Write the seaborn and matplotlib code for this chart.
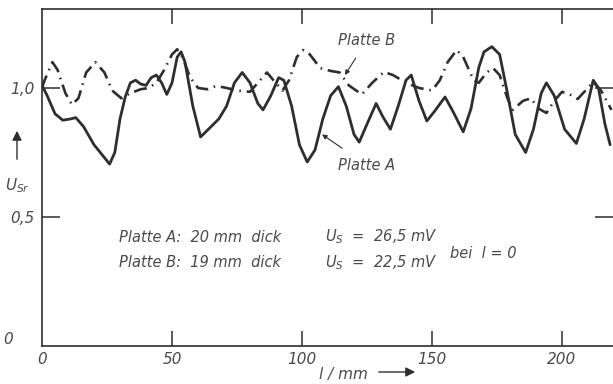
import numpy as np
import pandas as pd
import seaborn as sns
import matplotlib.pyplot as plt

# Platte A (solid line)
a_l = [0, 2, 5, 8, 11, 13, 16, 20, 24, 26, 28, 30, 32, 34, 36, 38, 40, 42, 44, 46,
       48, 50, 52, 53.5, 55, 58, 61, 64, 68, 71, 74, 77, 80, 83, 85, 88, 91, 93, 96, 99,
       102, 105, 108, 111, 114, 117, 120, 122, 125, 128.5, 131, 134, 137, 140, 142, 145,
       148, 151, 155, 158, 162, 165, 168, 170, 173, 176, 179, 182, 186, 189, 192, 194,
       197, 201, 205.5, 208.5, 212, 214, 216.5, 218.5]
a_u = [1.01, 0.97, 0.90, 0.875, 0.88, 0.885, 0.85, 0.78, 0.73, 0.705, 0.75, 0.88, 0.965,
       1.02, 1.03, 1.015, 1.01, 1.04, 1.05, 1.02, 0.975, 1.02, 1.12, 1.14, 1.10, 0.93, 0.81,
       0.84, 0.88, 0.93, 1.02, 1.06, 1.02, 0.94, 0.915, 0.97, 1.04, 1.03, 0.93, 0.78, 0.713,
       0.76, 0.88, 0.97, 1.005, 0.93, 0.82, 0.79, 0.86, 0.94, 0.89, 0.84, 0.93, 1.03, 1.05,
       0.95, 0.872, 0.91, 0.965, 0.91, 0.83, 0.92, 1.08, 1.14, 1.16, 1.13, 0.98, 0.82, 0.75,
       0.84, 0.98, 1.02, 0.97, 0.84, 0.785, 0.88, 1.03, 1.00, 0.86, 0.78]

# Platte B (dash-dot line)
b_l = [0, 1, 4, 6, 9, 11.5, 14, 17, 20.5, 24, 27, 30.5, 34, 38, 41, 44, 47, 50, 52, 54,
       57, 60, 63.5, 67, 71, 75, 80, 83, 86.5, 89, 92.5, 95, 98, 100.5, 103, 107, 111,
       114.5, 118, 123, 127, 131.5, 135, 140, 145, 150, 153, 156, 159.5, 162, 166, 168,
       171, 173.5, 176, 179, 181, 185, 188, 191, 194, 197, 200, 203, 206, 209, 212, 215, 219]
b_u = [1.00, 1.03, 1.10, 1.07, 0.98, 0.935, 0.96, 1.06, 1.10, 1.06, 0.99, 0.96, 0.98,
       0.995, 1.0, 1.02, 1.07, 1.13, 1.15, 1.12, 1.04, 1.0, 0.995, 1.008, 1.0, 0.99, 0.985,
       1.02, 1.06, 1.03, 0.99, 1.03, 1.12, 1.147, 1.13, 1.077, 1.066, 1.06, 1.01, 0.975,
       1.02, 1.062, 1.05, 1.02, 1.0, 0.99, 1.03, 1.10, 1.147, 1.12, 1.03, 1.02, 1.06, 1.077,
       1.05, 0.96, 0.915, 0.95, 0.96, 0.92, 0.903, 0.95, 0.985, 0.975, 0.957, 0.99, 1.023,
       0.99, 0.915]

x_ticks = [0, 50, 100, 150, 200]
x_ticklabels = ['0', '50', '100', '150', '200']
y_ticks = [0.5, 1.0]
y_ticklabels = ['0,5', '1,0']

ink = '#2e2e2e'
txt = '#4a4a4a'

sns.set_style("white")
plt.rcParams['font.family'] = ['DejaVu Sans']
plt.rcParams['mathtext.fontset'] = 'dejavusans'

fig = plt.figure(figsize=(6.13, 3.84), dpi=100)
ax = fig.add_axes([42 / 613, 38 / 384, 571 / 613, 337 / 384])

df_a = pd.DataFrame({'l': a_l, 'U': a_u})
df_b = pd.DataFrame({'l': b_l, 'U': b_u})
sns.lineplot(data=df_a, x='l', y='U', ax=ax, color=ink, lw=2.0, sort=False)
sns.lineplot(data=df_b, x='l', y='U', ax=ax, color=ink, lw=1.9, sort=False,
             linestyle=(0, (5, 2.2, 0.6, 2.2)))

ax.set_xlim(0, 219.6)
ax.set_ylim(0, 1.306)
ax.set_xlabel('')
ax.set_ylabel('')

for s in ['left', 'bottom', 'top']:
    ax.spines[s].set_visible(True)
    ax.spines[s].set_color(ink)
    ax.spines[s].set_linewidth(1.2)
ax.spines['right'].set_visible(False)

ax.set_xticks(x_ticks)
ax.set_xticklabels(x_ticklabels, style='italic', fontsize=11, color=txt)
ax.set_yticks(y_ticks)
ax.set_yticklabels(y_ticklabels, style='italic', fontsize=11, color=txt)
ax.tick_params(axis='x', direction='in', length=11, width=1.1, color=ink,
               top=True, bottom=True, pad=4)
ax.tick_params(axis='y', direction='in', length=13, width=1.1, color=ink,
               left=True, right=True, pad=5)
# no tick marks at the corner l = 0
ax.xaxis.get_major_ticks()[0].tick1line.set_visible(False)
ax.xaxis.get_major_ticks()[0].tick2line.set_visible(False)

# y = 0 label placed separately
fig.text(8 / 613, 1 - 339 / 384, '0', style='italic', fontsize=11,
         color=txt, ha='center', va='center')

# curve labels with leader lines
ax.annotate('Platte B', xy=(116.5, 1.05), xytext=(125, 1.185), style='italic',
            fontsize=10.5, color=txt, ha='center', va='center',
            arrowprops=dict(arrowstyle='-|>', color=ink, lw=0.8,
                            shrinkA=6, shrinkB=0, mutation_scale=7))
ax.annotate('Platte A', xy=(107.7, 0.82), xytext=(125, 0.70), style='italic',
            fontsize=10.5, color=txt, ha='center', va='center',
            arrowprops=dict(arrowstyle='-|>', color=ink, lw=0.8,
                            shrinkA=8, shrinkB=0, mutation_scale=7))

# info block
ax.text(29.5, 0.422, 'Platte A:  20 mm  dick', style='italic', fontsize=10.5, color=txt,
        va='center')
ax.text(29.5, 0.322, 'Platte B:  19 mm  dick', style='italic', fontsize=10.5, color=txt,
        va='center')
ax.text(109, 0.422, r'$U_S$  =  26,5 mV', style='italic', fontsize=10.5, color=txt,
        va='center')
ax.text(109, 0.322, r'$U_S$  =  22,5 mV', style='italic', fontsize=10.5, color=txt,
        va='center')
ax.text(157, 0.36, 'bei  l = 0', style='italic', fontsize=10.5, color=txt, va='center')

# axis labels with arrows
fig.text(17 / 613, 1 - 186 / 384, r'$U_{Sr}$', fontsize=11, color=txt, ha='center',
         va='center')
ax.annotate('', xy=(17 / 613, 1 - 128 / 384), xytext=(17 / 613, 1 - 162 / 384),
            xycoords='figure fraction', textcoords='figure fraction',
            arrowprops=dict(arrowstyle='-|>', color=ink, lw=1.0, mutation_scale=14))
fig.text(343 / 613, 1 - 375 / 384, 'l / mm', style='italic', fontsize=11, color=txt,
         ha='center', va='center')
ax.annotate('', xy=(418 / 613, 1 - 372 / 384), xytext=(376 / 613, 1 - 372 / 384),
            xycoords='figure fraction', textcoords='figure fraction',
            arrowprops=dict(arrowstyle='-|>', color=ink, lw=1.0, mutation_scale=14))

plt.savefig('out.png', dpi=100)
